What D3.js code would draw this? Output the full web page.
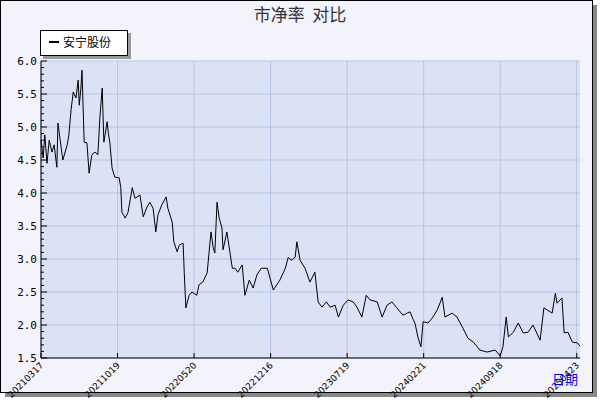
<!DOCTYPE html><html><head><meta charset="utf-8"><script src="https://cdn.jsdelivr.net/npm/d3@7"></script>
<style>body{margin:0;background:#fff}</style></head><body><svg id="c" width="600" height="400"></svg>
<script>
const title="市净率  对比";
const seriesName="安宁股份";
const xLabels=["20210317","20211019","20220520","20221216","20230719","20240221","20240918","20250423"];
const xTicks=[0,140,280,420,560,700,840,980];
const yTicks=[1.5,2.0,2.5,3.0,3.5,4.0,4.5,5.0,5.5,6.0];
const idx=[0,4,7,11,15,20,24,29,31,37,40,48,51,55,59,64,68,70,73,75,79,84,88,93,99,104,108,112,115,121,123,126,130,135,143,146,148,154,159,167,172,181,187,194,199,205,210,214,221,229,232,240,243,249,253,260,262,265,271,276,285,289,296,304,307,311,315,318,322,326,331,333,340,350,355,360,368,373,381,388,395,403,414,425,437,447,452,459,465,468,474,483,492,501,507,514,522,529,538,544,553,562,571,578,587,595,602,615,624,633,642,651,662,675,681,684,690,695,699,708,717,725,734,739,752,761,772,781,791,803,816,831,840,845,851,855,864,873,882,891,900,913,920,935,941,944,953,957,964,972,981,986];
const pb=[4.80,4.53,4.88,4.45,4.80,4.62,4.73,4.39,5.06,4.68,4.50,4.73,4.88,5.26,5.53,5.44,5.71,5.33,5.59,5.86,4.77,4.76,4.30,4.58,4.62,4.58,5.18,5.59,4.77,5.08,4.92,4.76,4.38,4.24,4.23,4.08,3.71,3.62,3.70,4.08,3.92,3.97,3.64,3.79,3.86,3.77,3.41,3.67,3.82,3.94,3.77,3.56,3.26,3.11,3.21,3.24,2.80,2.26,2.45,2.50,2.45,2.61,2.65,2.79,3.06,3.41,3.17,3.09,3.86,3.62,3.47,3.14,3.41,2.86,2.86,2.80,2.91,2.45,2.68,2.56,2.76,2.86,2.86,2.53,2.68,2.86,3.02,2.98,3.03,3.26,2.98,2.86,2.65,2.80,2.35,2.27,2.35,2.27,2.30,2.12,2.30,2.38,2.35,2.27,2.12,2.45,2.38,2.35,2.12,2.30,2.35,2.26,2.15,2.20,2.08,2.03,1.80,1.67,2.05,2.03,2.12,2.23,2.42,2.12,2.18,2.12,1.95,1.80,1.74,1.62,1.59,1.62,1.53,1.67,2.12,1.82,1.89,2.03,1.88,1.89,2.00,1.77,2.26,2.18,2.48,2.33,2.41,1.88,1.89,1.74,1.73,1.68];
const svg=d3.select("#c");
svg.append("rect").attr("x",5).attr("y",5).attr("width",592).attr("height",392).attr("fill","#888");
svg.append("rect").attr("x",0.5).attr("y",0.5).attr("width",592).attr("height",392).attr("fill","#f2f3fb").attr("stroke","#000");
const L=41,R=580,T=61,B=358;
const x=d3.scaleLinear().domain([0,986]).range([L,R]);
const y=d3.scaleLinear().domain([1.5,6]).range([B,T]);
svg.append("rect").attr("x",L).attr("y",T).attr("width",R-L).attr("height",B-T).attr("fill","#dce2f6");
const g=svg.append("g");
g.selectAll(".hg").data(yTicks).join("line").attr("x1",L).attr("x2",R).attr("y1",d=>y(d)).attr("y2",d=>y(d)).attr("stroke","#b8c4e6");
g.selectAll(".vg").data(xTicks).join("line").attr("y1",T).attr("y2",B).attr("x1",d=>x(d)).attr("x2",d=>x(d)).attr("stroke","#b8c4e6");
svg.append("line").attr("x1",L).attr("x2",L).attr("y1",T).attr("y2",B).attr("stroke","#000");
svg.append("line").attr("x1",L).attr("x2",R).attr("y1",B).attr("y2",B).attr("stroke","#000");
const minor=d3.range(15,61).map(d=>d/10);
svg.selectAll(".mt").data(minor).join("line").attr("x1",L).attr("x2",d=>L+(Math.abs(d*2-Math.round(d*2))<1e-6?6:3)).attr("y1",d=>y(d)).attr("y2",d=>y(d)).attr("stroke","#000");
svg.selectAll(".xt").data(xTicks).join("line").attr("x1",d=>x(d)).attr("x2",d=>x(d)).attr("y1",B).attr("y2",B-5).attr("stroke","#000");
svg.selectAll(".yl").data(yTicks).join("text").attr("x",L-4).attr("y",d=>y(d)+4).attr("text-anchor","end").attr("font-family","DejaVu Sans Mono").attr("font-size",11).text(d=>d.toFixed(1));
svg.selectAll(".xl").data(xTicks).join("text").attr("transform",d=>`translate(${x(d)+3},${B+8}) rotate(-45)`).attr("text-anchor","end").attr("font-family","DejaVu Sans").attr("font-size",9).text((d,i)=>xLabels[i]);
svg.append("path").datum(idx.map((d,i)=>[d,pb[i]])).attr("d",d3.line().x(d=>x(d[0])).y(d=>y(d[1]))).attr("fill","none").attr("stroke","#000").attr("stroke-width",1);
svg.append("text").attr("x",300).attr("y",21).attr("text-anchor","middle").attr("font-family","Noto Sans CJK SC").attr("font-size",17).attr("fill","#333").style("white-space","pre").text(title);
svg.append("rect").attr("x",43).attr("y",33).attr("width",88).attr("height",26).attr("fill","#999");
svg.append("rect").attr("x",40.5).attr("y",30.5).attr("width",87).attr("height",25).attr("fill","#fff").attr("stroke","#000");
svg.append("line").attr("x1",49).attr("x2",59).attr("y1",42).attr("y2",42).attr("stroke","#000").attr("stroke-width",2);
svg.append("text").attr("x",63).attr("y",47).attr("font-family","Noto Sans CJK SC").attr("font-size",12).text(seriesName);
svg.append("text").attr("x",552).attr("y",384).attr("font-family","Noto Sans CJK SC").attr("font-size",13).attr("fill","#00f").text("日期");
</script></body></html>
